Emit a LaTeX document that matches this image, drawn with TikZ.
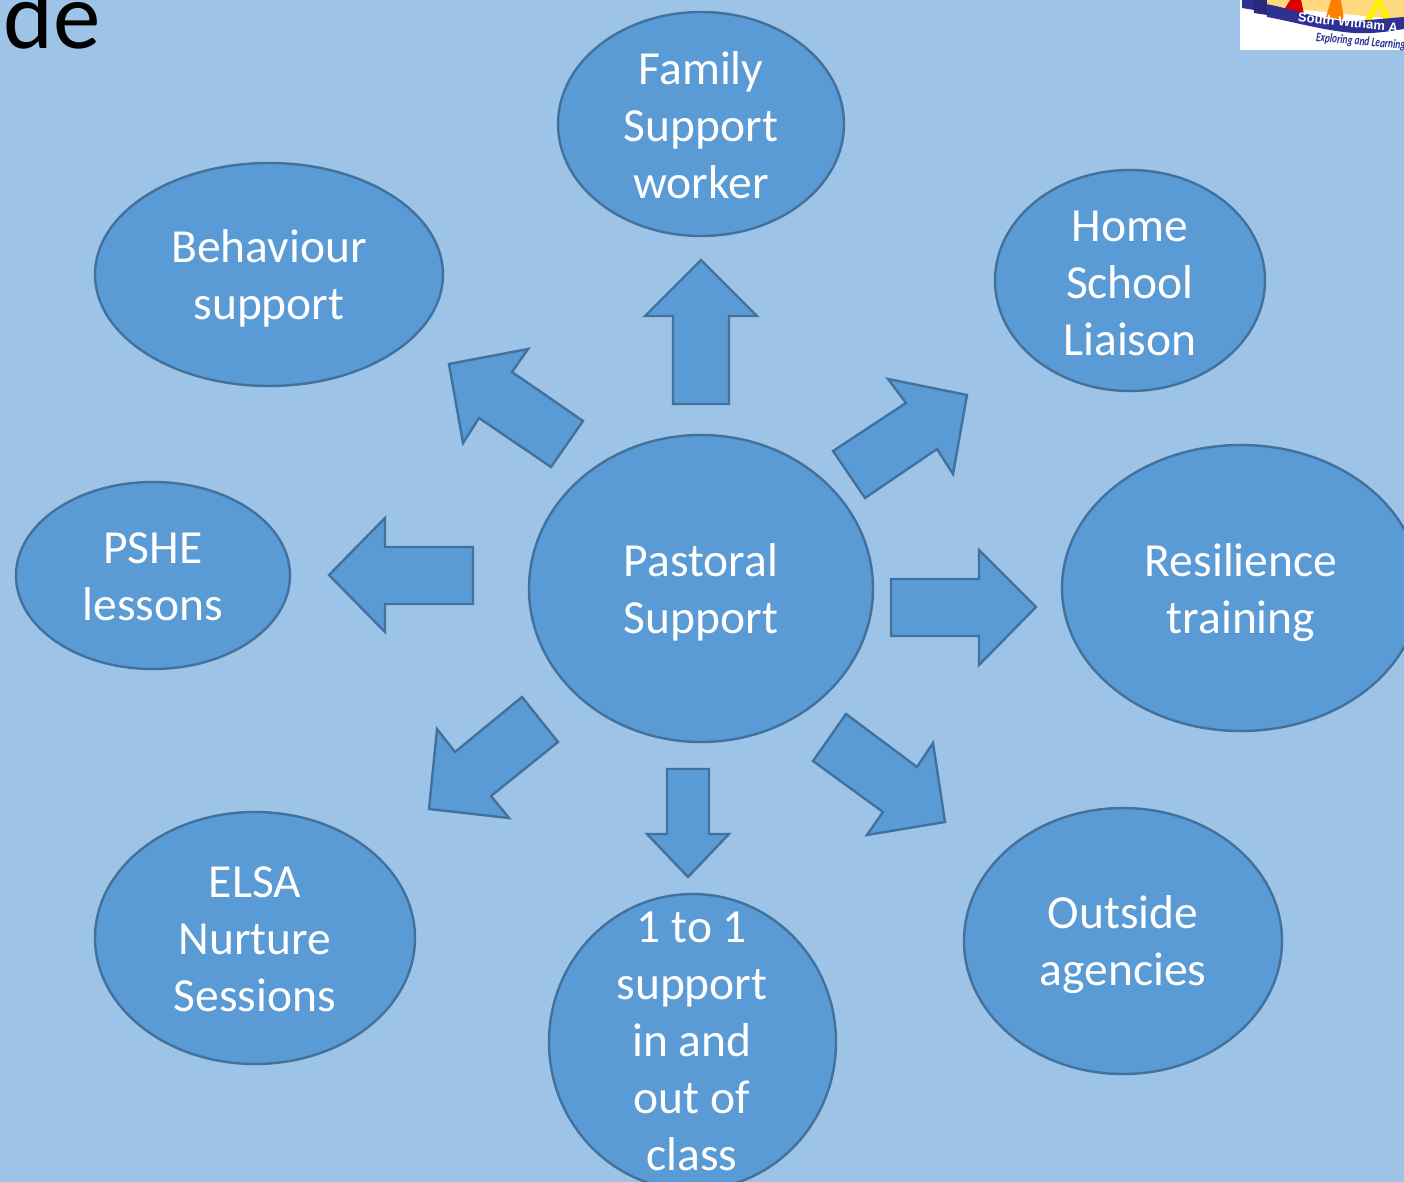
\documentclass[tikz,border=0pt]{standalone}
\usepackage{graphicx}
\usepackage{fontspec}
\setmainfont{Carlito}
\newfontfamily\logofont{Liberation Sans}
\usetikzlibrary{shapes.geometric}
\definecolor{bgblue}{HTML}{9DC3E6}
\definecolor{fillblue}{HTML}{5B9BD5}
\definecolor{lineblue}{HTML}{41719C}
\definecolor{bandblue}{HTML}{2E3192}
\definecolor{logocream}{HTML}{FFD97F}
\tikzset{
  blob/.style={ellipse,draw=lineblue,fill=fillblue,line width=2.4pt,inner sep=0pt},
  blocka/.style={draw=lineblue,fill=fillblue,line width=2.4pt,line join=miter},
  lbl/.style={text=white,font=\fontsize{47.5}{57}\selectfont,align=center,inner sep=0pt}
}
\begin{document}
\begin{tikzpicture}[x=1pt,y=-1pt]
\useasboundingbox (0,0) rectangle (1404,1182);
\clip (0,0) rectangle (1404,1182);
\fill[bgblue] (0,0) rectangle (1404,1182);
% title fragment
\node[anchor=base west,inner sep=0pt,text=black,font=\fontsize{95}{95}\selectfont] (title) at (3,49) {de};
% logo
\fill[white] (1240,0) rectangle (1404,50);
\fill[bandblue] (1242,0) -- (1242,8) -- (1254,10) -- (1254,0) -- cycle;
\fill[bandblue!85!black] (1253,0) -- (1254,13) -- (1267,15) -- (1267,0) -- cycle;
\fill[logocream] (1267,0) -- (1267,6) -- (1404,20) -- (1404,0) -- cycle;
\fill[red!85!black] (1290,0) -- (1284,10) -- (1304,14) -- (1301,0) -- cycle;
\fill[orange] (1331,0) -- (1326,17) -- (1344,20) -- (1341,0) -- cycle;
\fill[yellow] (1376,0) -- (1364,21) -- (1371,21) -- (1379,5) -- (1384,21) -- (1391,20) -- (1381,0) -- cycle;
\fill[bandblue] (1266,4) .. controls (1290,8) and (1325,22) .. (1354,21) .. controls (1372,20) and (1390,18) .. (1404,17)
  -- (1404,29) .. controls (1385,32) and (1370,34) .. (1354,33) .. controls (1325,31) and (1290,21) .. (1267,17) -- cycle;
\node[rotate=-6,anchor=west,text=white,inner sep=0pt,font=\logofont\bfseries\fontsize{13}{13}\selectfont] (logoa) at (1298,17) {South Witham A};
\node[rotate=-5,anchor=west,text=bandblue,inner sep=0pt,font=\bfseries\itshape\fontsize{13}{13}\selectfont] (logob) at (1316,38) {\scalebox{0.72}[1]{Exploring and Learning T}};
% ellipses
\node[blob,minimum width=286pt,minimum height=224pt] (family) at (701,124) {};
\node[blob,minimum width=348pt,minimum height=223pt] (behav) at (269,274.5) {};
\node[blob,minimum width=270pt,minimum height=221pt] (home) at (1130,280.5) {};
\node[blob,minimum width=274pt,minimum height=187pt] (pshe) at (153,575.5) {};
\node[blob,minimum width=344pt,minimum height=307pt] (past) at (701,588.5) {};
\node[blob,minimum width=358pt,minimum height=286pt] (resil) at (1241,588) {};
\node[blob,minimum width=320pt,minimum height=252pt] (elsa) at (255,938) {};
\node[blob,minimum width=287pt,minimum height=296pt] (one) at (692.5,1042) {};
\node[blob,minimum width=318pt,minimum height=266pt] (outs) at (1123,941) {};
% labels
\node[lbl] (tfamily) at (701,125) {Family\\Support\\worker};
\node[lbl] (tbehav) at (269,278.5) {Behaviour\\support};
\node[lbl] (thome) at (1130,283) {Home\\School\\Liaison};
\node[lbl] (tpshe) at (153,577) {PSHE\\lessons};
\node[lbl] (tpast) at (701,592.5) {Pastoral\\Support};
\node[lbl] (tresil) at (1241,592.5) {Resilience\\training};
\node[lbl] (telsa) at (255,939) {ELSA\\Nurture\\Sessions};
\node[lbl] (tone) at (692,1041.5) {1 to 1\\support\\in and\\out of\\class};
\node[lbl] (touts) at (1123,945) {Outside\\agencies};
% block arrows
\draw[blocka] (701,260) -- (757,316) -- (729,316) -- (729,404) -- (673,404) -- (673,316) -- (645,316) -- cycle;
\draw[blocka] (449,364) -- (528,349) -- (512,372) -- (583,421) -- (551,467) -- (479,418) -- (463,443) -- cycle;
\draw[blocka] (967,395) -- (888,379) -- (906,403) -- (833,451) -- (865,498) -- (937,449) -- (953,474) -- cycle;
\draw[blocka] (329,575) -- (385,518) -- (385,547) -- (473,547) -- (473,604) -- (385,604) -- (385,632) -- cycle;
\draw[blocka] (1036,607) -- (979,550) -- (979,579) -- (891,579) -- (891,636) -- (979,636) -- (979,665) -- cycle;
\draw[blocka] (429,809) -- (437,729) -- (455,752) -- (522,697) -- (558,742) -- (491,796) -- (509,818) -- cycle;
\draw[blocka] (688,877) -- (647,834) -- (667,834) -- (667,769) -- (709,769) -- (709,834) -- (729,834) -- cycle;
\draw[blocka] (945,822) -- (867,835) -- (883,812) -- (813,761) -- (846,714) -- (917,767) -- (933,743) -- cycle;
\end{tikzpicture}
\end{document}
